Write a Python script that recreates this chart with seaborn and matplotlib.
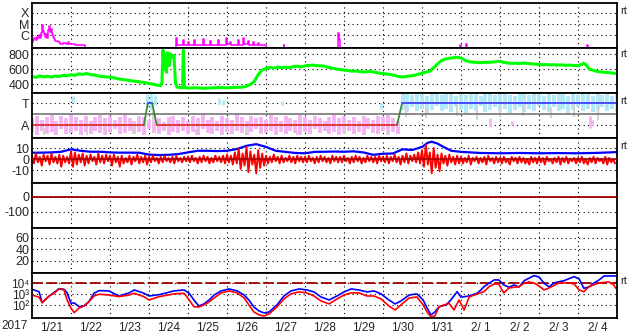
import numpy as np
import pandas as pd
import matplotlib
matplotlib.use("Agg")
import matplotlib.pyplot as plt
from matplotlib.ticker import NullLocator, FixedLocator
import seaborn as sns

sns.set_style("white")
plt.rcParams['font.family'] = ['Liberation Sans', 'DejaVu Sans']

# ---------------- data (time in days since 2017-01-21 00:00) ----------------
day_labels = ["1/21", "1/22", "1/23", "1/24", "1/25", "1/26", "1/27", "1/28",
              "1/29", "1/30", "1/31", "2/ 1", "2/ 2", "2/ 3", "2/ 4"]

xray_t = [0.00, 0.03, 0.06, 0.09, 0.12, 0.15, 0.18, 0.21, 0.24, 0.26, 0.28, 0.30,
          0.33, 0.36, 0.39, 0.42, 0.44, 0.46, 0.48, 0.50, 0.53, 0.56, 0.60, 0.66,
          0.72, 0.80, 0.88, 0.92, 0.95, 1.00, 1.10, 1.25, 1.35,
          3.70, 3.72, 3.88, 3.90, 4.01, 4.03, 4.16, 4.18, 4.39, 4.41, 4.57, 4.59,
          4.77, 4.79, 4.98, 5.00, 5.08, 5.10, 5.29, 5.31, 5.42, 5.44, 5.54, 5.56,
          5.67, 5.69, 5.80, 5.82, 6.00, 6.45, 6.47, 7.85, 7.87, 7.90, 10.98, 11.00,
          11.13, 11.15, 14.23, 14.25, 15.0]
xray_log = [-6.6, -6.4, -6.2, -6.35, -6.1, -6.25, -5.95, -6.2, -5.8, -5.1, -5.6, -5.9,
            -6.1, -5.85, -6.2, -5.5, -5.2, -5.7, -5.45, -5.9, -6.1, -6.3, -6.5, -6.6,
            -6.7, -6.65, -6.75, -6.55, -6.7, -6.75, -6.8, -6.85, -7.3,
            -6.22, -6.8, -6.39, -6.8, -6.57, -6.8, -6.39, -6.8, -6.3, -6.8, -6.48, -6.8,
            -6.39, -6.8, -6.22, -6.75, -6.57, -6.8, -6.39, -6.8, -6.22, -6.75, -6.48, -6.8,
            -6.57, -6.8, -6.65, -6.85, -7.3, -6.85, -7.3, -5.75, -6.3, -7.3, -6.8, -7.3,
            -6.75, -7.3, -6.8, -7.3, -7.3]

speed_t = [0.0, 0.1, 0.2, 0.3, 0.4, 0.5, 0.6, 0.7, 0.8, 0.9, 1.0, 1.1, 1.2, 1.3, 1.4,
           1.5, 1.6, 1.7, 1.8, 1.9, 2.0, 2.1, 2.2, 2.3, 2.4, 2.5, 2.6, 2.7, 2.8, 2.9,
           3.0, 3.1, 3.2, 3.3, 3.33, 3.36, 3.39, 3.42, 3.45, 3.48, 3.52, 3.56, 3.6,
           3.64, 3.68, 3.72, 3.8, 3.86, 3.88, 3.91, 4.0, 4.2, 4.4, 4.6, 4.8, 5.0, 5.2,
           5.4, 5.5, 5.6, 5.7, 5.8, 5.9, 6.0, 6.1, 6.2, 6.3, 6.4, 6.5, 6.6, 6.7, 6.8,
           6.9, 7.0, 7.1, 7.2, 7.3, 7.4, 7.5, 7.6, 7.7, 7.8, 7.9, 8.0, 8.1, 8.2, 8.3,
           8.4, 8.5, 8.6, 8.7, 8.8, 8.9, 9.0, 9.1, 9.2, 9.3, 9.4, 9.5, 9.6, 9.7, 9.8,
           9.9, 10.0, 10.1, 10.2, 10.3, 10.4, 10.5, 10.6, 10.7, 10.8, 10.9, 11.0, 11.1,
           11.2, 11.3, 11.4, 11.5, 11.6, 11.7, 11.8, 11.9, 12.0, 12.1, 12.2, 12.3, 12.4,
           12.5, 12.6, 12.7, 12.8, 12.9, 13.0, 13.1, 13.2, 13.3, 13.4, 13.5, 13.6, 13.7,
           13.8, 13.9, 14.0, 14.1, 14.15, 14.2, 14.3, 14.4, 14.5, 14.6, 14.7, 14.8,
           14.9, 15.0]
speed_v = [505, 495, 512, 500, 508, 498, 512, 505, 520, 515, 528, 520, 540, 532, 545,
           530, 525, 512, 505, 500, 495, 488, 475, 468, 460, 452, 445, 440, 430, 425,
           412, 405, 392, 385, 420, 850, 600, 790, 560, 820, 650, 800, 760,
           780, 420, 365, 360, 355, 850, 360, 352, 358, 350, 355, 360, 356, 362,
           365, 378, 400, 440, 530, 590, 610, 625, 615, 630, 620, 628, 622, 635, 640,
           632, 645, 650, 655, 648, 645, 640, 625, 615, 605, 595, 590, 585, 575, 578,
           570, 565, 568, 572, 560, 550, 545, 538, 530, 520, 505, 498, 505, 512, 520,
           535, 548, 560, 575, 620, 670, 715, 735, 745, 752, 758, 748, 720,
           700, 695, 690, 688, 692, 690, 695, 700, 705, 690, 682, 678, 680,
           676, 682, 678, 672, 668, 665, 660, 662, 658, 660, 655, 658, 652,
           655, 650, 648, 665, 680, 660, 600, 585, 570, 565, 560, 555,
           550, 545]

# IMF sector: +1 = Toward, -1 = Away
sector_t = [0.0, 2.87, 2.97, 3.08, 3.20, 9.36, 9.49, 15.0]
sector_v = [-1, -1, 1, 1, -1, -1, 1, 1]

pink_t0, pink_dt = 0.0, 0.125
pink_hi = [-0.4, -0.2, -0.5, -0.3, -0.1, -0.6, -0.2, -0.4, 0.1, -0.3,
           -0.5, -0.2, -0.6, -0.3, -0.1, -0.4, -0.2, -0.5, -0.3, 0.0,
           -0.4, -0.6, -0.2, -0.3, -0.5, -0.1, -0.4, -0.7, -0.3, -0.2,
           -0.5, -0.3, -0.6, -0.2, -0.4, -0.1, -0.5, -0.3, -0.6, -0.2,
           -0.4, -0.5, -0.1, -0.3, -0.6, -0.2, -0.4, -0.3, -0.5, -0.1,
           -0.3, -0.6, -0.2, -0.4, -0.5, -0.1, -0.3, -0.5, -0.2, -0.4,
           -0.6, -0.3, -0.1, -0.4, -0.2, -0.5, -0.3, -0.6, -0.2, -0.4,
           -0.5, -0.2, -0.3, -0.1, -0.4, -0.6]
pink_lo = [-1.7, -1.9, -1.5, -1.8, -1.6, -1.9, -1.4, -1.8, -1.7, -1.5,
           -1.9, -1.6, -1.8, -1.5, -1.7, -1.9, -1.6, -1.4, -1.8, -1.7,
           -1.5, -1.8, -1.6, -1.9, -1.4, -1.7, -1.8, -1.5, -1.9, -1.6,
           -1.7, -1.5, -1.8, -1.6, -1.9, -1.4, -1.7, -1.8, -1.5, -1.9,
           -1.6, -1.8, -1.5, -1.7, -1.9, -1.6, -1.4, -1.8, -1.7, -1.5,
           -1.9, -1.6, -1.8, -1.5, -1.7, -1.9, -1.6, -1.8, -1.4, -1.7,
           -1.5, -1.8, -1.6, -1.9, -1.7, -1.5, -1.8, -1.6, -1.9, -1.4,
           -1.7, -1.8, -1.5, -1.9, -1.6, -1.8]

lblue_t0, lblue_dt = 9.5, 0.125
lblue_hi = [1.8, 1.9, 1.7, 1.9, 1.8, 1.6, 1.9, 1.8, 1.7, 1.9,
            1.8, 1.6, 1.9, 1.7, 1.8, 1.9, 1.6, 1.8, 1.9, 1.7,
            1.8, 1.9, 1.7, 1.6, 1.9, 1.8, 1.7, 1.9, 1.8, 1.6,
            1.9, 1.7, 1.8, 1.9, 1.6, 1.8, 1.7, 1.9, 1.8, 1.6,
            1.9, 1.7, 1.8, 1.6, 1.9]
lblue_lo = [0.4, 0.2, 0.6, 0.3, 0.5, 0.1, 0.4, 0.7, 0.3, 0.5,
            0.2, 0.6, 0.4, 0.1, 0.5, 0.3, 0.7, 0.2, 0.4, 0.6,
            0.3, 0.5, 0.1, 0.4, 0.6, 0.2, 0.5, 0.3, 0.7, 0.4,
            0.2, 0.6, 0.3, 0.5, 0.1, 0.4, 0.6, 0.3, 0.5, 0.2,
            0.4, 0.6, 0.3, 0.5, 0.2]

sparse_blue_t = [1.05, 2.95, 3.05, 3.15, 4.8, 4.9, 6.4, 8.95]
sparse_blue_hi = [1.6, 1.8, 1.9, 1.7, 1.5, 1.3, 1.2, 1.0]
sparse_blue_lo = [1.1, 0.6, 0.4, 0.8, 0.9, 0.8, 0.8, 0.5]
sparse_pink_t = [11.75, 12.3, 14.3, 14.35]
sparse_pink_hi = [-0.4, -0.6, -0.2, -0.5]
sparse_pink_lo = [-1.2, -1.0, -1.3, -1.1]
gray_t = [0.3, 1.4, 2.6, 3.1, 4.2, 5.5, 6.8, 8.0, 9.1,
          9.6, 10.1, 10.9, 11.4, 12.0, 12.6, 13.3, 13.9, 14.5]
gray_hi = [-1.3, -1.5, -1.2, 0.3, -1.4, -1.3, -1.5, -1.2, -1.4,
           0.8, 0.6, 0.9, 0.5, 0.7, 0.8, 0.6, 0.9, 0.7]
gray_lo = [-1.9, -1.9, -1.8, -0.9, -1.9, -1.8, -1.9, -1.8, -1.9,
           -0.3, -0.4, -0.2, -0.5, -0.3, -0.2, -0.4, -0.3, -0.5]

# Bz: upper and lower excursions in each 0.1-day interval
bz_t0, bz_dt = 0.0, 0.1
bz_hi = [3, 5, 2, 4, 3, 5, 2, 4, 3, 2,
         7, 6, 4, 5, 3, 4, 2, 5, 3, 4,
         3, 4, 2, 3, 1, 3, 2, 4, 2, 3,
         2, 3, 1, 2, 3, 1, 2, 3, 1, 2,
         2, 3, 1, 2, 3, 2, 1, 3, 2, 3,
         4, 3, 6, 9, 5, 11, 7, 4, 8, 5,
         3, 2, 4, 2, 3, 1, 3, 2, 3, 2,
         2, 3, 1, 2, 3, 2, 1, 3, 2, 2,
         3, 1, 2, 3, 2, 1, 3, 2, 2, 3,
         2, 3, 2, 4, 2, 3, 5, 3, 4, 6,
         8, 13, 6, 10, 4, 5, 3, 4, 2, 3,
         2, 1, 3, 1, 2, 1, 2, 3, 1, 2,
         1, 2, 0, 2, 1, 2, 1, 0, 2, 1,
         2, 1, 2, 0, 1, 2, 1, 2, 0, 1,
         1, 2, 0, 1, 2, 1, 0, 2, 1, 0]
bz_lo = [-4, -3, -6, -2, -5, -3, -4, -7, -3, -4,
         -7, -5, -3, -6, -4, -2, -5, -3, -4, -2,
         -6, -3, -7, -4, -3, -5, -2, -4, -3, -5,
         -3, -2, -4, -3, -2, -3, -4, -2, -3, -2,
         -3, -2, -4, -3, -2, -4, -3, -2, -3, -4,
         -3, -5, -4, -9, -6, -12, -5, -13, -8, -6,
         -4, -3, -2, -4, -3, -2, -3, -4, -2, -3,
         -3, -2, -4, -3, -2, -3, -4, -2, -3, -3,
         -2, -4, -3, -2, -4, -3, -2, -3, -4, -2,
         -3, -4, -2, -3, -5, -3, -4, -2, -3, -4,
         -7, -5, -13, -8, -11, -4, -6, -3, -5, -4,
         -4, -3, -5, -2, -4, -3, -5, -2, -4, -3,
         -4, -3, -5, -2, -4, -3, -4, -5, -3, -4,
         -3, -5, -2, -4, -3, -5, -3, -4, -2, -4,
         -3, -4, -5, -3, -4, -2, -4, -5, -3, -4]

bt_t = [0.0, 0.25, 0.5, 0.75, 1.0, 1.25, 1.5, 1.75, 2.0, 2.25, 2.5, 2.75, 3.0, 3.25,
        3.5, 3.75, 4.0, 4.25, 4.5, 4.75, 5.0, 5.25, 5.5, 5.75, 6.0, 6.25, 6.5, 6.75,
        7.0, 7.25, 7.5, 7.75, 8.0, 8.25, 8.5, 8.75, 9.0, 9.25, 9.5, 9.75, 10.0, 10.15,
        10.25, 10.4, 10.55, 10.75, 11.0, 11.5, 12.0, 12.5, 13.0, 13.5, 14.0, 14.5, 15.0]
bt_v = [5.7, 5.8, 6.0, 6.6, 8.8, 7.5, 6.6, 6.6, 6.0, 5.8, 5.8, 5.7, 4.0, 3.6,
        3.8, 4.5, 6.0, 7.5, 7.5, 7.2, 7.5, 9.0, 12.0, 13.5, 11.0, 7.5, 6.5, 5.5,
        5.2, 6.5, 6.6, 6.8, 6.6, 7.0, 6.0, 3.8, 4.8, 5.0, 8.8, 8.2, 11.0, 14.8,
        15.7, 14.0, 11.0, 7.5, 6.5, 5.5, 5.2, 5.5, 5.2, 5.4, 5.2, 5.6, 6.3]

dst_level = [0]

elec_blue_t = [0.0, 0.18, 0.26, 0.44, 0.56, 0.69, 0.82, 0.9, 1.0, 1.08, 1.21, 1.33, 1.46,
               1.59, 1.72, 1.97, 2.23, 2.49, 2.62, 2.87, 3.0, 3.26, 3.64, 3.9, 4.03, 4.15,
               4.28, 4.41, 4.54, 4.67, 4.85, 5.05, 5.26, 5.44, 5.56, 5.69, 5.82, 5.95,
               6.08, 6.28, 6.46, 6.64, 6.85, 7.05, 7.23, 7.41, 7.62, 7.82, 8.0, 8.18,
               8.38, 8.59, 8.77, 8.95, 9.15, 9.31, 9.46, 9.67, 9.87, 10.03, 10.13, 10.23,
               10.33, 10.44, 10.62, 10.74, 10.9, 11.0, 11.21, 11.41, 11.51, 11.59, 11.72,
               11.85, 11.97, 12.1, 12.23, 12.36, 12.49, 12.62, 12.87, 13.0, 13.13, 13.26,
               13.38, 13.64, 13.9, 14.03, 14.15, 14.28, 14.41, 14.54, 14.67, 14.97]
elec_blue_log = [3.47, 3.25, 2.25, 2.86, 3.16, 3.53, 3.47, 3.14, 2.2, 2.23, 1.89, 1.95, 2.35,
                 3.11, 3.35, 3.32, 2.86, 3.14, 3.41, 3.11, 2.86, 2.98, 3.32, 3.41, 3.11, 2.5,
                 1.95, 2.14, 2.5, 2.95, 3.32, 3.5, 3.32, 2.95, 2.5, 1.86, 1.5, 1.32,
                 1.41, 2.05, 2.86, 3.32, 3.5, 3.41, 3.23, 2.77, 2.5, 2.86, 3.23, 3.5,
                 3.41, 3.23, 3.32, 3.05, 2.5, 2.14, 2.41, 2.95, 3.05, 2.5, 1.77, 1.14,
                 1.41, 1.89, 2.05, 2.5, 3.25, 2.75, 2.86, 3.11, 3.41, 3.71, 4.02,
                 4.32, 4.32, 3.86, 3.65, 3.86, 3.68, 4.25, 4.71, 4.59, 4.02, 3.68,
                 4.05, 4.25, 4.62, 4.41, 3.56, 3.68, 4.05, 4.32, 4.68, 4.68]
elec_red_t = [0.0, 0.18, 0.26, 0.44, 0.56, 0.69, 0.82, 0.9, 1.0, 1.08, 1.21, 1.33, 1.46,
              1.59, 1.72, 1.97, 2.23, 2.49, 2.62, 2.87, 3.0, 3.26, 3.64, 3.9, 4.03, 4.15,
              4.28, 4.41, 4.54, 4.67, 4.85, 5.05, 5.26, 5.44, 5.56, 5.69, 5.82, 5.95,
              6.08, 6.28, 6.46, 6.64, 6.85, 7.05, 7.23, 7.41, 7.62, 7.82, 8.0, 8.18,
              8.38, 8.59, 8.77, 8.95, 9.15, 9.31, 9.46, 9.67, 9.87, 10.03, 10.13, 10.23,
              10.33, 10.44, 10.69, 10.82, 10.95, 11.08, 11.21, 11.46, 11.59, 11.72, 11.85,
              11.97, 12.05, 12.1, 12.23, 12.49, 12.62, 12.74, 12.87, 13.0, 13.13, 13.26,
              13.51, 13.77, 13.9, 14.03, 14.15, 14.28, 14.54, 14.79, 14.92, 14.97]
elec_red_log = [2.95, 2.75, 2.25, 2.86, 3.09, 3.5, 3.41, 2.5, 1.75, 1.35, 1.77, 1.95, 2.32,
                2.86, 3.02, 2.95, 2.8, 2.95, 3.11, 2.8, 2.5, 2.8, 3.05, 3.11, 2.5, 1.89,
                1.86, 2.05, 2.32, 2.68, 3.14, 3.32, 3.14, 2.68, 2.05, 1.41, 1.14, 1.05,
                1.23, 1.86, 2.59, 3.05, 3.23, 3.14, 2.86, 2.41, 2.14, 2.59, 2.95, 3.14,
                3.14, 2.86, 2.86, 2.59, 1.95, 1.59, 2.05, 2.68, 2.77, 2.05, 1.41, 0.95,
                1.05, 1.89, 2.2, 1.59, 2.5, 1.59, 2.77, 3.11, 3.25, 3.71, 3.95,
                3.95, 3.41, 3.14, 3.59, 3.71, 4.02, 4.14, 4.05, 3.77, 3.41, 3.59,
                4.05, 4.05, 3.95, 3.41, 3.25, 3.71, 4.05, 4.14, 3.86, 3.56]
elec_threshold = 1e4

# ---------------- layout ----------------
W, H = 633, 334
fig = plt.figure(figsize=(W / 100, H / 100), dpi=100)
left_px, right_px = 32, 617
bounds = [3, 48, 93, 138, 183, 228, 273, 318]
axes = []
for i in range(7):
    top, bot = bounds[i], bounds[i + 1]
    ax = fig.add_axes([left_px / W, 1 - bot / H, (right_px - left_px) / W, (bot - top) / H])
    axes.append(ax)

DOT = (0, (1, 3))
TICK_FS = 9

def style(ax, yticks, ylabels, ylim, log=False, fs=TICK_FS):
    if log:
        ax.set_yscale('log')
    ax.set_xlim(0, 15)
    ax.set_ylim(*ylim)
    ax.xaxis.set_major_locator(FixedLocator(list(range(1, 15))))
    ax.xaxis.set_minor_locator(NullLocator())
    ax.yaxis.set_major_locator(FixedLocator(yticks))
    ax.yaxis.set_minor_locator(NullLocator())
    ax.set_yticklabels(ylabels)
    ax.tick_params(axis='both', which='both', length=0)
    ax.tick_params(axis='y', labelsize=fs, pad=2)
    ax.tick_params(axis='x', labelbottom=False)
    ax.grid(True, which='major', linestyle=DOT, color='black', linewidth=0.8)
    ax.set_axisbelow(True)
    for s in ax.spines.values():
        s.set_color('black')
        s.set_linewidth(1.3)

# Panel 1: X-ray flux
ax = axes[0]
style(ax, [1e-6, 1e-5, 1e-4], ['C', 'M', 'X'], (10 ** -7.09, 10 ** -3.17), log=True)
xray_df = pd.DataFrame({'t': xray_t, 'flux': [10 ** v for v in xray_log]})
sns.lineplot(data=xray_df, x='t', y='flux', ax=ax, color='#ff00ff', lw=1.1,
             drawstyle='steps-post', estimator=None, sort=False, legend=False)

# Panel 2: solar wind speed
ax = axes[1]
style(ax, [400, 600, 800], ['400', '600', '800'], (288, 880))
sns.lineplot(x=speed_t, y=speed_v, ax=ax, color='#00ff00', lw=2.2, estimator=None,
             sort=False, legend=False)

# Panel 3: IMF sector
ax = axes[2]
style(ax, [-1, 1], ['A', 'T'], (-2.18, 1.91))
pt = [pink_t0 + i * pink_dt for i in range(len(pink_hi))]
ax.vlines(pt, pink_lo, pink_hi, color='#f4b4f4', lw=2.8, zorder=1)
bt_ = [lblue_t0 + i * lblue_dt for i in range(len(lblue_hi))]
ax.vlines(bt_, lblue_lo, lblue_hi, color='#b0e8fa', lw=2.8, zorder=1)
ax.vlines(sparse_blue_t, sparse_blue_lo, sparse_blue_hi, color='#b0e8fa', lw=2.0, zorder=1)
ax.vlines(sparse_pink_t, sparse_pink_lo, sparse_pink_hi, color='#f4b4f4', lw=2.0, zorder=1)
ax.vlines(gray_t, gray_lo, gray_hi, color='#d4d4d4', lw=1.5, zorder=1)
ax.axhline(0, color='#808080', lw=1.3, zorder=2)
for i in range(len(sector_t) - 1):
    t0, t1 = sector_t[i], sector_t[i + 1]
    v0, v1 = sector_v[i], sector_v[i + 1]
    if v0 != v1:
        c = '#3c8a3c'
    elif v0 > 0:
        c = '#4040ff'
    else:
        c = '#e03030'
    sns.lineplot(x=[t0, t1], y=[v0, v1], ax=ax, color=c, lw=1.3, estimator=None,
                 sort=False, legend=False)

# Panel 4: IMF Bt / Bz
ax = axes[3]
style(ax, [-10, 0, 10], ['-10', '0', '10'], (-21.8, 19.1))
bz_time, bz_val = [], []
for i in range(len(bz_hi)):
    bz_time += [bz_t0 + i * bz_dt, bz_t0 + (i + 0.5) * bz_dt]
    bz_val += [bz_hi[i], bz_lo[i]]
sns.lineplot(x=bt_t, y=bt_v, ax=ax, color='#0000ff', lw=1.6, estimator=None,
             sort=False, legend=False)
sns.lineplot(x=bz_time, y=bz_val, ax=ax, color='#ff0000', lw=1.4, estimator=None,
             sort=False, legend=False)
ax.axhline(0, color='#a00000', lw=1.1, zorder=3)

# Panel 5: Dst
ax = axes[4]
style(ax, [-100, 0], ['-100', '0'], (-207, 93))
for lv in dst_level:
    ax.axhline(lv, color='#a00000', lw=1.3, zorder=3)

# Panel 6: empty index panel
ax = axes[5]
style(ax, [20, 40, 60], ['20', '40', '60'], (-0.9, 77.4))

# Panel 7: electron flux
ax = axes[6]
style(ax, [1e2, 1e3, 1e4], ['10\u00b2', '10\u00b3', '10\u2074'],
      (10 ** 0.86, 10 ** 4.95), log=True, fs=8.5)
ax.axhline(elec_threshold, color='#a00000', lw=1.3, linestyle=(0, (6, 2)), zorder=2)
sns.lineplot(x=elec_blue_t, y=[10 ** v for v in elec_blue_log], ax=ax, color='#0000ff',
             lw=1.2, estimator=None, sort=False, legend=False)
sns.lineplot(x=elec_red_t, y=[10 ** v for v in elec_red_log], ax=ax, color='#ff0000',
             lw=1.2, estimator=None, sort=False, legend=False)
ax.set_xticks([i + 0.5 for i in range(15)], minor=True)
ax.set_xticklabels(day_labels, minor=True)
ax.tick_params(axis='x', which='minor', labelbottom=True, labelsize=8.5, pad=3, length=0)

for a in axes:
    a.set_xlabel('')
    a.set_ylabel('')

fig.text(15 / W, 1 - 326 / H, '2017', fontsize=8.5, ha='center', va='center')
for ypx in [11, 54, 101, 146, 281]:
    fig.text(620 / W, 1 - ypx / H, 'rt', fontsize=8, ha='left', va='center')

fig.savefig('out.png', dpi=100)
